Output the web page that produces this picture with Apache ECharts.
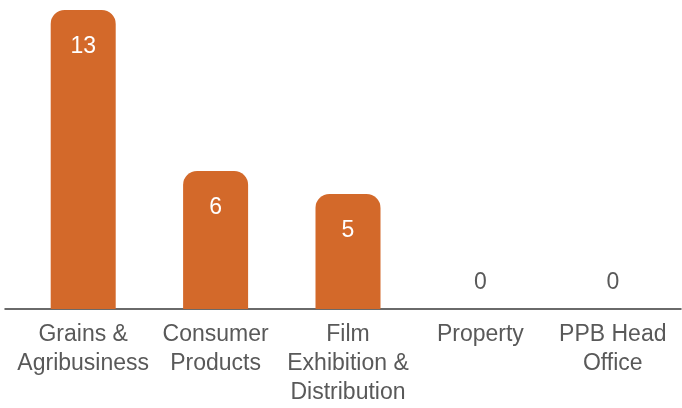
<!DOCTYPE html>
<html>
<head>
<meta charset="utf-8">
<style>
  html, body { margin: 0; padding: 0; background: #ffffff; }
  #chart { width: 682px; height: 408px; }
</style>
<script src="https://cdn.jsdelivr.net/npm/echarts@6/dist/echarts.min.js"></script>
</head>
<body>
<div id="chart"></div>
<script>
// Divisions and their counts
const categories = [
  'Grains &\nAgribusiness',
  'Consumer\nProducts',
  'Film\nExhibition &\nDistribution',
  'Property',
  'PPB Head\nOffice'
];
const counts = [13, 6, 5, 0, 0];

const barColor = '#D3692A';
const textColor = '#595959';
const font = 'Liberation Sans';

// Values sit inside the bar near its top; empty bars get a grey label above the baseline
const seriesData = counts.map(function (v) {
  if (v > 0) {
    return {
      value: v,
      label: { position: 'insideTop', distance: 25, color: '#ffffff', fontSize: 23 }
    };
  }
  return {
    value: v,
    label: { position: 'top', distance: 15, color: textColor, fontSize: 23 }
  };
});

const chart = echarts.init(document.getElementById('chart'), null, { renderer: 'canvas' });

chart.setOption({
  backgroundColor: '#ffffff',
  animation: false,
  textStyle: { fontFamily: font },
  grid: [
    { left: 17, right: 3, top: 10, bottom: 99, containLabel: false },
    // wider strip that only carries the baseline rule
    { left: 5, right: 1, top: 10, bottom: 99, containLabel: false }
  ],
  xAxis: [
    {
      type: 'category',
      gridIndex: 0,
      data: categories,
      axisLine: { show: false },
      axisTick: { show: false },
      axisLabel: {
        interval: 0,
        margin: 11,
        fontFamily: font,
        fontSize: 23,
        lineHeight: 29,
        color: textColor,
        align: 'center'
      }
    },
    {
      type: 'value',
      gridIndex: 1,
      min: 0,
      max: 1,
      axisLine: { show: true, lineStyle: { color: '#3a3a3a', width: 1.5 } },
      axisTick: { show: false },
      axisLabel: { show: false },
      splitLine: { show: false }
    }
  ],
  yAxis: [
    {
      type: 'value',
      gridIndex: 0,
      min: 0,
      max: 13,
      show: false,
      splitLine: { show: false }
    },
    {
      type: 'value',
      gridIndex: 1,
      min: 0,
      max: 1,
      show: false,
      splitLine: { show: false }
    }
  ],
  series: [
    {
      type: 'bar',
      xAxisIndex: 0,
      yAxisIndex: 0,
      data: seriesData,
      barWidth: 65,
      itemStyle: { color: barColor, borderRadius: [14, 14, 0, 0] },
      label: {
        show: true,
        fontFamily: font
      }
    }
  ]
});
</script>
</body>
</html>
